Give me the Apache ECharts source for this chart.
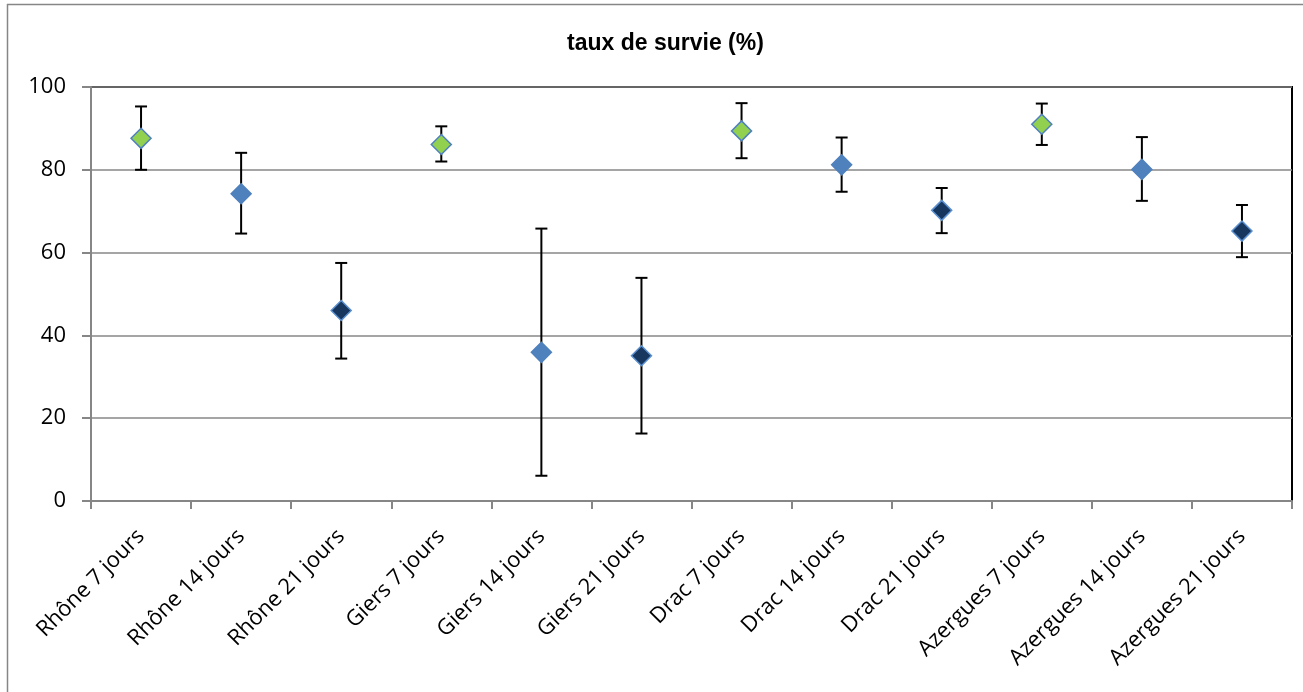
<!DOCTYPE html>
<html>
<head>
<meta charset="utf-8">
<script src="https://cdn.jsdelivr.net/npm/echarts@6/dist/echarts.min.js"></script>
<style>
html,body{margin:0;padding:0;background:#fff;}
#chart{width:1303px;height:692px;}
</style>
</head>
<body>
<div id="chart"></div>
<script>
// ---- data ----
var categories = ['Rhône 7 jours','Rhône 14 jours','Rhône 21 jours','Giers 7 jours','Giers 14 jours','Giers 21 jours','Drac 7 jours','Drac 14 jours','Drac 21 jours','Azergues 7 jours','Azergues 14 jours','Azergues 21 jours'];
var durees   = [7, 14, 21, 7, 14, 21, 7, 14, 21, 7, 14, 21];
var survie   = [87.6, 74.2, 46.0, 86.1, 35.9, 35.1, 89.4, 81.2, 70.2, 91.0, 80.1, 65.2];
var errHaut  = [95.3, 84.1, 57.5, 90.5, 65.8, 53.9, 96.1, 87.8, 75.6, 96.0, 87.9, 71.5];
var errBas   = [80.0, 64.6, 34.4, 82.0, 6.1, 16.3, 82.8, 74.7, 64.7, 86.0, 72.5, 58.9];
var yTicks   = [0, 20, 40, 60, 80, 100];

// ---- styles ----
var fills = {7: '#92D050', 14: '#4F81BD', 21: '#17375E'};
var edges = {7: '#4F81BD', 14: '#4F81BD', 21: '#5A8FD0'};

var chart = echarts.init(document.getElementById('chart'), null, {renderer: 'canvas'});

function pointsFor(d) {
  var out = [];
  for (var i = 0; i < categories.length; i++) {
    if (durees[i] === d) out.push([categories[i], survie[i]]);
  }
  return out;
}
var errData = categories.map(function (c, i) { return [i, errBas[i], errHaut[i]]; });

var scatterSeries = [7, 14, 21].map(function (d) {
  return {
    type: 'scatter',
    name: d + ' jours',
    data: pointsFor(d),
    symbol: 'diamond',
    symbolSize: [20, 20],
    z: 5,
    itemStyle: {color: fills[d], borderColor: edges[d], borderWidth: 1.5, opacity: 1},
    emphasis: {disabled: true}
  };
});

var option = {
  animation: false,
  backgroundColor: '#fff',
  title: {
    text: 'taux de survie (%)',
    left: 562, top: 27,
    textStyle: {fontFamily: 'Liberation Sans', fontWeight: 'bold', fontSize: 23, color: '#000'}
  },
  grid: {
    left: 91, right: 11, top: 87, bottom: 191,
    show: true, borderColor: '#000', borderWidth: 2, backgroundColor: 'transparent'
  },
  xAxis: {
    type: 'category',
    data: categories,
    boundaryGap: true,
    axisLine: {show: true, lineStyle: {color: '#868686', width: 2}},
    axisTick: {show: true, alignWithLabel: false, length: 8, lineStyle: {color: '#868686', width: 2}},
    axisLabel: {
      rotate: 45, margin: 32, interval: 0,
      fontFamily: 'Open Sans', fontSize: 22, color: '#000'
    },
    splitLine: {show: false}
  },
  yAxis: {
    type: 'value',
    min: yTicks[0], max: yTicks[yTicks.length - 1], interval: 20,
    axisLine: {show: true, lineStyle: {color: '#868686', width: 2}},
    axisTick: {show: true, length: 9, lineStyle: {color: '#868686', width: 2}},
    axisLabel: {margin: 25, fontFamily: 'Open Sans', fontSize: 22, color: '#000'},
    splitLine: {show: true, lineStyle: {color: '#878787', width: 1.5}}
  },
  graphic: [
    {type: 'line', shape: {x1: 7.5, y1: 4, x2: 7.5, y2: 692}, style: {stroke: '#868686', lineWidth: 1.5}, silent: true},
    {type: 'line', shape: {x1: 7, y1: 4.5, x2: 1303, y2: 4.5}, style: {stroke: '#868686', lineWidth: 1.5}, silent: true}
  ],
  series: [{
    type: 'custom',
    name: 'erreur',
    data: errData,
    z: 3,
    renderItem: function (params, api) {
      var x = api.value(0);
      var lo = api.coord([x, api.value(1)]);
      var hi = api.coord([x, api.value(2)]);
      var cap = 6;
      var st = {stroke: '#000', lineWidth: 2};
      return {
        type: 'group',
        children: [
          {type: 'line', shape: {x1: hi[0], y1: hi[1], x2: lo[0], y2: lo[1]}, style: st},
          {type: 'line', shape: {x1: hi[0] - cap, y1: hi[1], x2: hi[0] + cap, y2: hi[1]}, style: st},
          {type: 'line', shape: {x1: lo[0] - cap, y1: lo[1], x2: lo[0] + cap, y2: lo[1]}, style: st}
        ]
      };
    }
  }].concat(scatterSeries)
};
chart.setOption(option);
</script>
</body>
</html>
